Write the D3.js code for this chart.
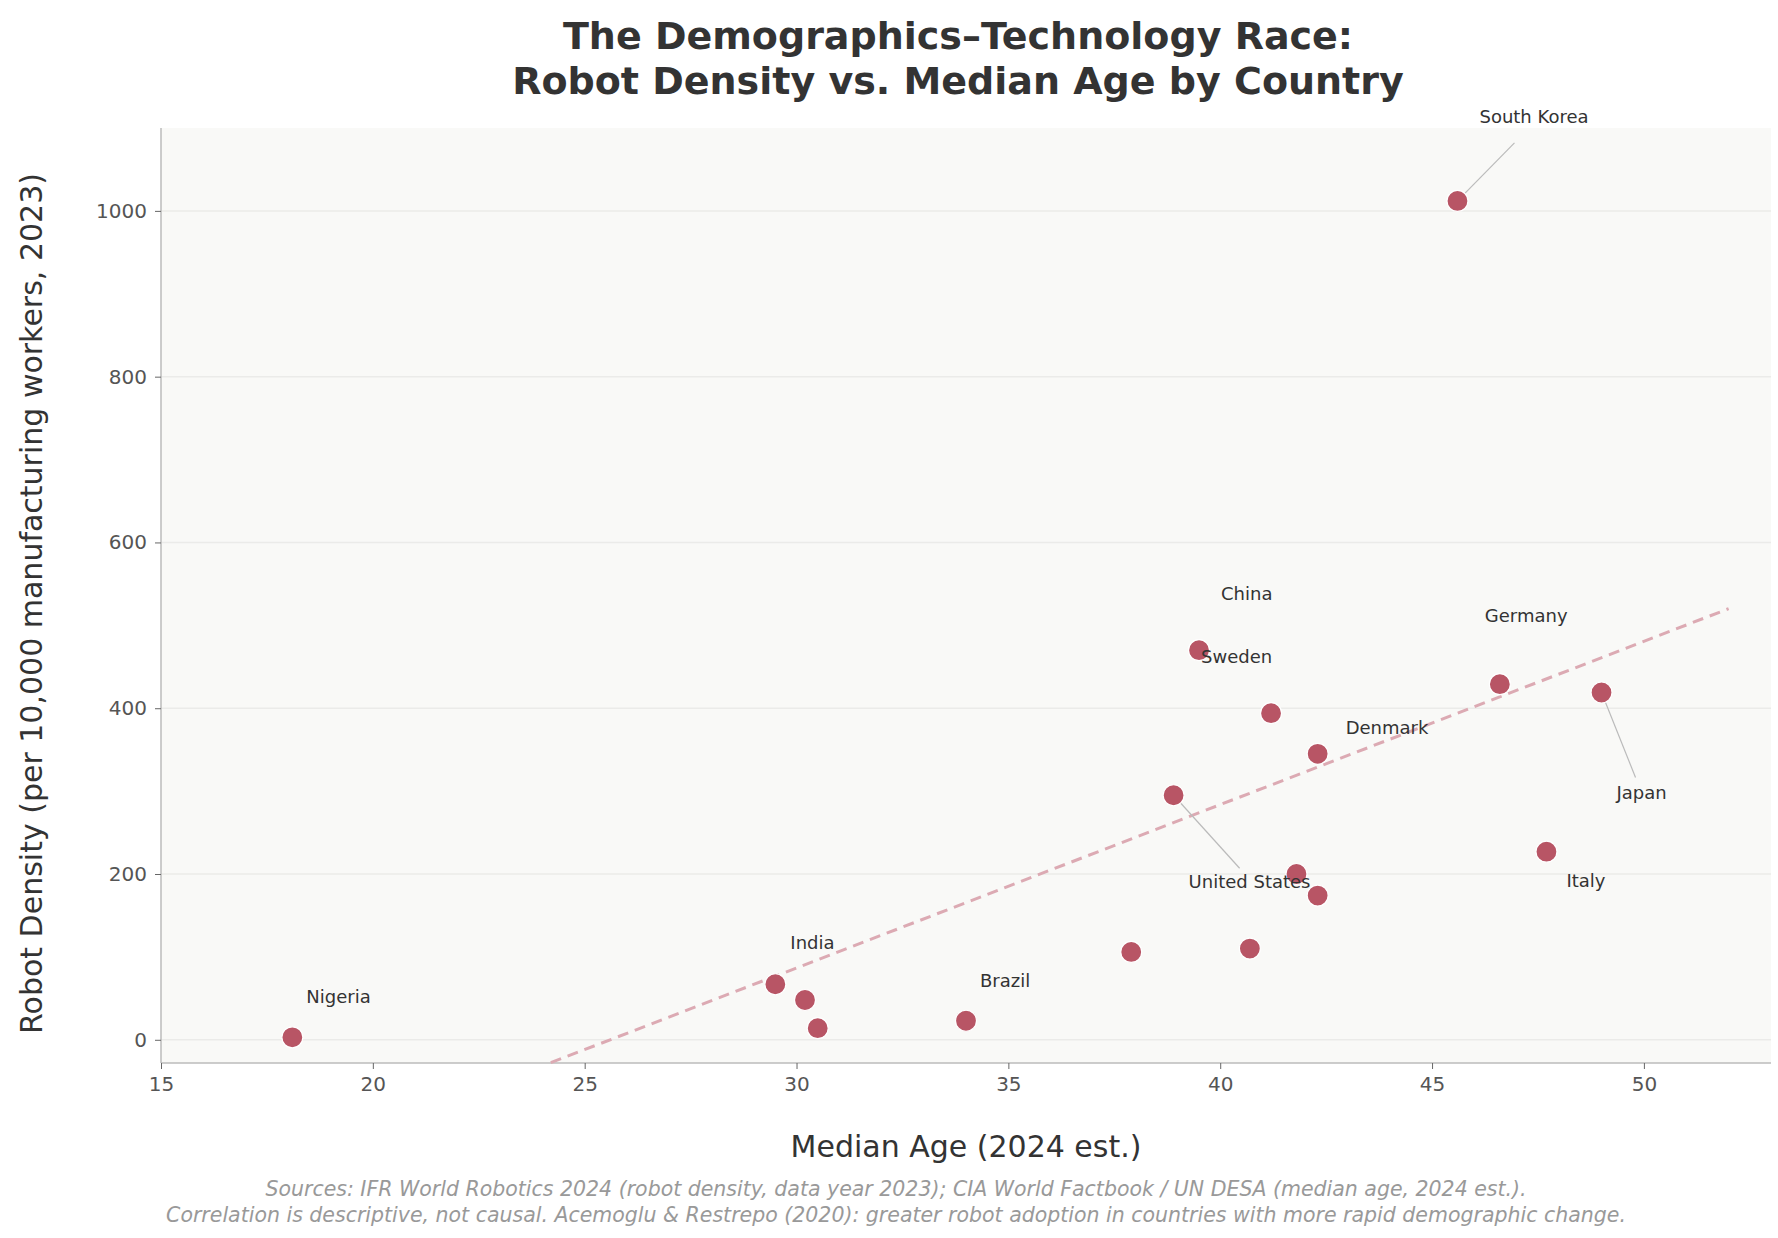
<!DOCTYPE html>
<html><head><meta charset="utf-8">
<script src="https://cdn.jsdelivr.net/npm/d3@7"></script>
<style>body{margin:0;background:#fff;font-family:"DejaVu Sans",sans-serif}</style>
</head><body>
<svg id="chart" width="1778" height="1238"></svg>
<script>
const names = ["Nigeria","India","","","Brazil","","","United States","China","Sweden","Denmark","","","South Korea","Germany","Japan","Italy"];
const ages = [18.1,29.5,30.2,30.5,34.0,37.9,40.7,38.9,39.5,41.2,42.3,41.8,42.3,45.6,46.6,49.0,47.7];
const density = [3,67,48,14,23,106,110,295,470,394,345,200,174,1012,429,419,227];
// label offsets in px (dx, dy); leader end relative to label start
const labelDx = [14,15,0,0,14,0,0,15,22,-70,28,0,0,22,-15,15,20];
const labelDy = [-34,-35,0,0,-34,0,0,93,-50,-50,-20,0,0,-78,-62,107,35];
const leaderDx = [0,0,0,0,0,0,0,51,0,0,0,0,0,35,0,19,0];
const leaderDy = [0,0,0,0,0,0,0,-20,0,0,0,0,0,20,0,-22,0];
const xTicks = [15,20,25,30,35,40,45,50];
const yTicks = [0,200,400,600,800,1000];
const trendX = [24.2,52];
const trendSlope = 19.7, trendX0 = 25.6;

const svg = d3.select("#chart");
const m = {l:161,r:1771,t:128,b:1063};
const x = d3.scaleLinear().domain([15,53]).range([m.l,m.r]);
const y = d3.scaleLinear().domain([-28,1100]).range([m.b,m.t]);

svg.append("rect").attr("x",m.l).attr("y",m.t).attr("width",m.r-m.l).attr("height",m.b-m.t).attr("fill","#f9f9f7");
svg.append("g").selectAll("line").data(yTicks).join("line")
  .attr("x1",m.l).attr("x2",m.r).attr("y1",d=>y(d)).attr("y2",d=>y(d))
  .attr("stroke","#ebebe9").attr("stroke-width",1.5);

const gx = svg.append("g").attr("transform",`translate(0,${m.b})`)
  .call(d3.axisBottom(x).tickValues(xTicks).tickFormat(d3.format("d")).tickSize(6).tickPadding(8));
const gy = svg.append("g").attr("transform",`translate(${m.l},0)`)
  .call(d3.axisLeft(y).tickValues(yTicks).tickFormat(d3.format("d")).tickSize(6).tickPadding(8));
[gx,gy].forEach(g=>{
  g.select(".domain").attr("stroke","#bbbbbb").attr("stroke-width",1.5);
  g.selectAll(".tick line").attr("stroke","#666");
  g.selectAll("text").attr("fill","#555").style("font-size","20px").style("font-family","DejaVu Sans");
});
gy.select(".domain").attr("d",`M0,${m.t}V${m.b}`);
gx.select(".domain").attr("d",`M${m.l},0H${m.r}`);

svg.append("line")
  .attr("x1",x(trendX[0])).attr("y1",y(trendSlope*(trendX[0]-trendX0)))
  .attr("x2",x(trendX[1])).attr("y2",y(trendSlope*(trendX[1]-trendX0)))
  .attr("stroke","#dcaab3").attr("stroke-width",3).attr("stroke-dasharray","11,7");

const pts = ages.map((a,i)=>({a,d:density[i],n:names[i],dx:labelDx[i],dy:labelDy[i],lx:leaderDx[i],ly:leaderDy[i]}));
svg.append("g").selectAll("line").data(pts.filter(p=>p.lx)).join("line")
  .attr("x1",p=>x(p.a)).attr("y1",p=>y(p.d))
  .attr("x2",p=>x(p.a)+p.dx+p.lx).attr("y2",p=>y(p.d)+p.dy+p.ly)
  .attr("stroke","#bbb").attr("stroke-width",1.2);
svg.append("g").selectAll("circle").data(pts).join("circle")
  .attr("cx",p=>x(p.a)).attr("cy",p=>y(p.d)).attr("r",10.5)
  .attr("fill","#b85565").attr("stroke","#fff").attr("stroke-width",1.2);
svg.append("g").selectAll("text").data(pts.filter(p=>p.n)).join("text")
  .attr("x",p=>x(p.a)+p.dx).attr("y",p=>y(p.d)+p.dy)
  .attr("fill","#333").style("font-size","18px").text(p=>p.n);

svg.append("text").attr("x",(m.l+m.r)/2-8).attr("y",49).attr("text-anchor","middle")
  .attr("fill","#333").style("font-size","38px").style("font-weight","bold").text("The Demographics–Technology Race:");
svg.append("text").attr("x",(m.l+m.r)/2-8).attr("y",94).attr("text-anchor","middle")
  .attr("fill","#333").style("font-size","38px").style("font-weight","bold").text("Robot Density vs. Median Age by Country");
svg.append("text").attr("x",966).attr("y",1157).attr("text-anchor","middle")
  .attr("fill","#333").style("font-size","30px").text("Median Age (2024 est.)");
svg.append("text").attr("transform",`translate(42,${(m.t+m.b)/2+8}) rotate(-90)`).attr("text-anchor","middle")
  .attr("fill","#333").style("font-size","30px").text("Robot Density (per 10,000 manufacturing workers, 2023)");
svg.append("text").attr("x",896).attr("y",1196).attr("text-anchor","middle")
  .attr("fill","#999").style("font-size","20.5px").style("font-style","italic")
  .text("Sources: IFR World Robotics 2024 (robot density, data year 2023); CIA World Factbook / UN DESA (median age, 2024 est.).");
svg.append("text").attr("x",896).attr("y",1222).attr("text-anchor","middle")
  .attr("fill","#999").style("font-size","20.5px").style("font-style","italic")
  .text("Correlation is descriptive, not causal. Acemoglu & Restrepo (2020): greater robot adoption in countries with more rapid demographic change.");
</script>
</body></html>
